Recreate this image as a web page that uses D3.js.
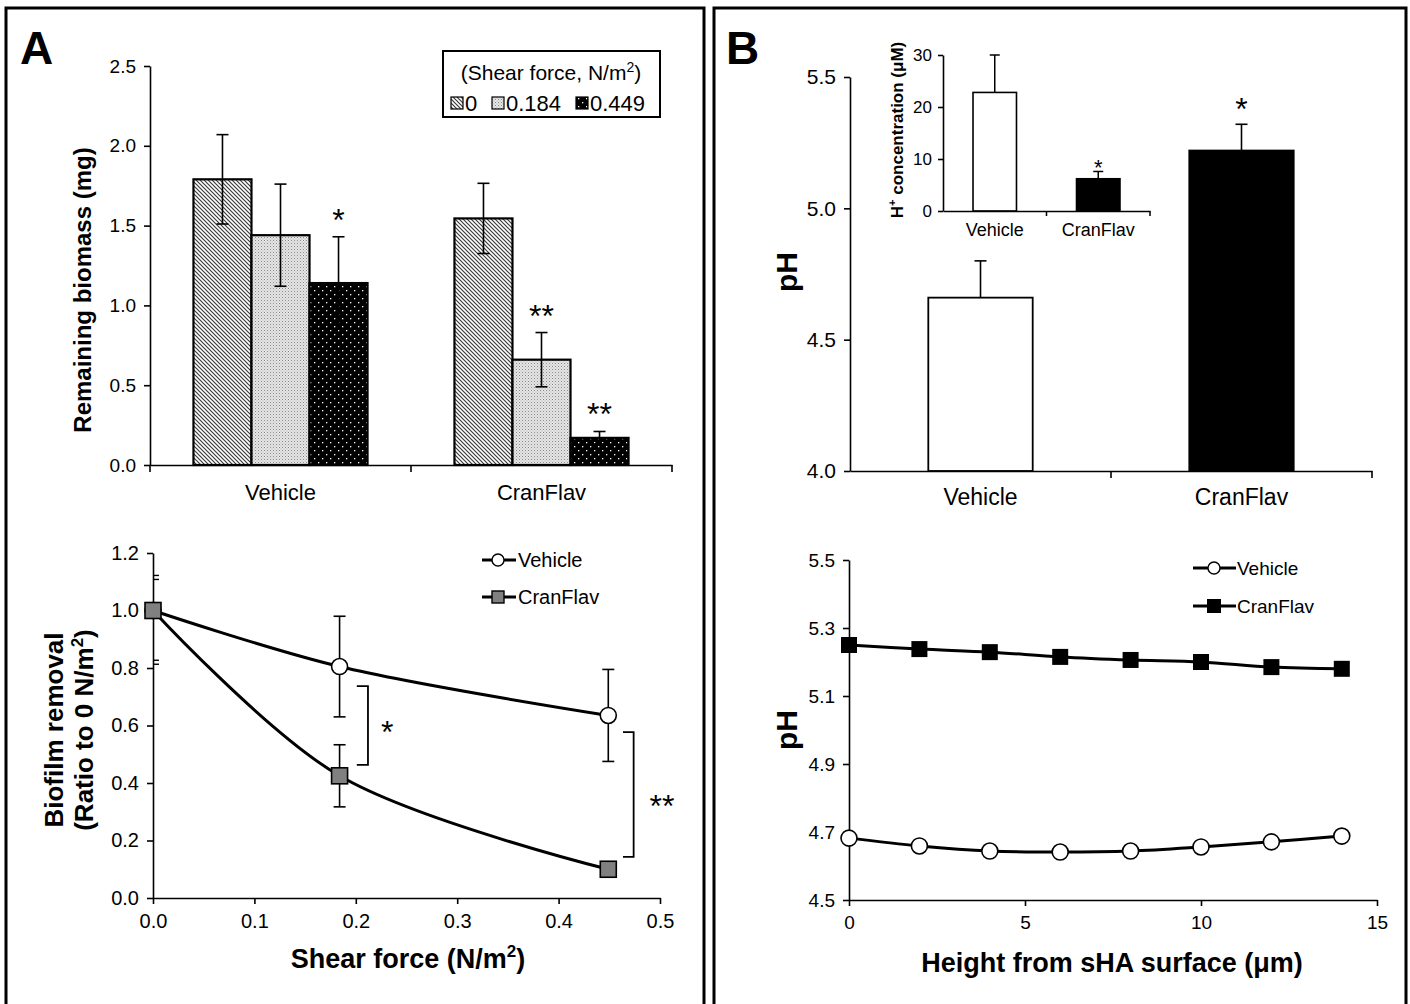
<!DOCTYPE html>
<html><head><meta charset="utf-8">
<script src="https://cdn.jsdelivr.net/npm/d3@7"></script>
<style>
body{margin:0;background:#fff}
text{font-family:"Liberation Sans",Arial,sans-serif;fill:#000}
</style>
</head><body><svg id="c" width="1410" height="1004"></svg>
<script>
// ---------------- DATA ----------------
const groups = ["Vehicle", "CranFlav"];
const shearLevels = ["0", "0.184", "0.449"];
const biomassVehicle = [1.79, 1.44, 1.14];
const biomassVehicleErr = [0.28, 0.32, 0.29];
const biomassCranFlav = [1.545, 0.66, 0.17];
const biomassCranFlavErr = [0.22, 0.17, 0.04];
const biomassSig = [["", "", "*"], ["", "**", "**"]];
const biomassTicks = [0, 0.5, 1.0, 1.5, 2.0, 2.5];

const shearX = [0, 0.184, 0.449];
const removalVehicle = [1.0, 0.805, 0.635];
const removalVehicleErr = [0, 0.175, 0.16];
const removalCranFlav = [1.0, 0.425, 0.10];
const removalCranFlavErr = [0, 0.108, 0.012];
const removalYTicks = [0, 0.2, 0.4, 0.6, 0.8, 1.0, 1.2];
const removalXTicks = [0, 0.1, 0.2, 0.3, 0.4, 0.5];
const removalBrackets = [
  {x: 0.212, arm: 0.201, y0: 0.737, y1: 0.463, label: "*", lx: 0.231, ly: 0.59},
  {x: 0.474, arm: 0.4635, y0: 0.577, y1: 0.143, label: "**", lx: 0.502, ly: 0.335}
];

const phMean = [4.66, 5.22];
const phErr = [0.14, 0.10];
const phSig = ["", "*"];
const phTicks = [4.0, 4.5, 5.0, 5.5];

const hConc = [22.8, 6.2];
const hConcErr = [7.2, 1.4];
const hSig = ["", "*"];
const hTicks = [0, 10, 20, 30];

const heights = [0, 2, 4, 6, 8, 10, 12, 14];
const profileVehicle = [4.682, 4.659, 4.644, 4.641, 4.644, 4.656, 4.671, 4.688];
const profileCranFlav = [5.25, 5.238, 5.229, 5.215, 5.206, 5.20, 5.185, 5.18];
const profileYTicks = [4.5, 4.7, 4.9, 5.1, 5.3, 5.5];
const profileXTicks = [0, 5, 10, 15];

// ---------------- SETUP ----------------
const svg = d3.select("#c");
const defs = svg.append("defs");
const font = '"Liberation Sans",Arial,sans-serif';

// patterns
const p1 = defs.append("pattern").attr("id", "hatch").attr("patternUnits", "userSpaceOnUse").attr("width", 4).attr("height", 4);
p1.append("rect").attr("width", 4).attr("height", 4).attr("fill", "#fff");
p1.append("path").attr("d", "M-1,-1 L5,5 M-1,3 L1,5 M3,-1 L5,1").attr("stroke", "#3a3a3a").attr("stroke-width", 1.2);
const p2 = defs.append("pattern").attr("id", "dots").attr("patternUnits", "userSpaceOnUse").attr("width", 3).attr("height", 3);
p2.append("rect").attr("width", 3).attr("height", 3).attr("fill", "#e6e6e6");
p2.append("rect").attr("width", 1).attr("height", 1).attr("fill", "#888");
p2.append("rect").attr("x", 1.5).attr("y", 1.5).attr("width", 1).attr("height", 1).attr("fill", "#aaa");
const p3 = defs.append("pattern").attr("id", "bdots").attr("patternUnits", "userSpaceOnUse").attr("width", 8).attr("height", 8);
p3.append("rect").attr("width", 8).attr("height", 8).attr("fill", "#000");
p3.append("rect").attr("x", 2).attr("y", 2).attr("width", 1.3).attr("height", 1.3).attr("fill", "#fff");
p3.append("rect").attr("x", 6).attr("y", 6).attr("width", 1.3).attr("height", 1.3).attr("fill", "#fff");
const fills = ["url(#hatch)", "url(#dots)", "url(#bdots)"];

// panel borders
svg.append("rect").attr("x", 6).attr("y", 8).attr("width", 698).attr("height", 1010)
  .attr("fill", "none").attr("stroke", "#000").attr("stroke-width", 3);
svg.append("rect").attr("x", 714).attr("y", 8).attr("width", 692).attr("height", 1010)
  .attr("fill", "none").attr("stroke", "#000").attr("stroke-width", 3);

svg.append("text").attr("x", 20).attr("y", 64).attr("font-size", 46).attr("font-weight", "bold").text("A");
svg.append("text").attr("x", 726).attr("y", 64).attr("font-size", 46).attr("font-weight", "bold").text("B");

function styleAxis(g, fs) {
  g.selectAll(".domain").attr("stroke", "#000").attr("stroke-width", 1.6);
  g.selectAll(".tick line").attr("stroke", "#000").attr("stroke-width", 1.6);
  g.selectAll(".tick text").attr("font-size", fs).attr("font-family", font).attr("fill", "#000");
}
function errBar(g, x, y0, y1, cap, sw) {
  g.append("line").attr("x1", x).attr("x2", x).attr("y1", y0).attr("y2", y1).attr("stroke", "#000").attr("stroke-width", sw);
  g.append("line").attr("x1", x - cap).attr("x2", x + cap).attr("y1", y1).attr("y2", y1).attr("stroke", "#000").attr("stroke-width", sw);
}

// ---------------- PANEL A TOP ----------------
{
  const g = svg.append("g");
  const x = d3.scaleBand().domain(groups).range([150, 672]).padding(0);
  const y = d3.scaleLinear().domain([0, 2.5]).range([465, 66]);
  const groupW = x.bandwidth() * 0.667;
  const x1 = d3.scaleBand().domain(shearLevels).range([0, groupW]).padding(0);
  const means = [biomassVehicle, biomassCranFlav];
  const errs = [biomassVehicleErr, biomassCranFlavErr];
  groups.forEach((grp, gi) => {
    const off = x(grp) + (x.bandwidth() - groupW) / 2;
    shearLevels.forEach((s, si) => {
      const bx = off + x1(s), v = means[gi][si], e = errs[gi][si];
      g.append("rect").attr("x", bx).attr("y", y(v)).attr("width", x1.bandwidth()).attr("height", y(0) - y(v))
        .attr("fill", fills[si]).attr("stroke", "#000").attr("stroke-width", 2.2);
      const cx = bx + x1.bandwidth() / 2;
      errBar(g, cx, y(v), y(v + e), 6, 1.6);
      errBar(g, cx, y(v), y(v - e), 6, 1.6);
      if (biomassSig[gi][si]) {
        g.append("text").attr("x", cx).attr("y", y(v + e) - 6).attr("text-anchor", "middle")
          .attr("font-size", 32).text(biomassSig[gi][si]);
      }
    });
  });
  const ya = g.append("g").attr("transform", "translate(150,0)")
    .call(d3.axisLeft(y).tickValues(biomassTicks).tickFormat(d3.format(".1f")).tickSize(6).tickSizeOuter(0).tickPadding(8));
  styleAxis(ya, 19);
  const xa = g.append("g").attr("transform", "translate(0,465)")
    .call(d3.axisBottom(x).tickSize(0).tickPadding(19));
  styleAxis(xa, 22);
  [...groups.map(d => x(d)), x.range()[1]].forEach(px => {
    g.append("line").attr("x1", px).attr("x2", px).attr("y1", 465).attr("y2", 472).attr("stroke", "#000").attr("stroke-width", 1.6);
  });
  g.append("text").attr("transform", "translate(91,290) rotate(-90)").attr("text-anchor", "middle")
    .attr("font-size", 24).attr("font-weight", "bold").text("Remaining biomass (mg)");
  // legend
  const lg = g.append("g");
  lg.append("rect").attr("x", 443).attr("y", 51).attr("width", 217).attr("height", 66)
    .attr("fill", "#fff").attr("stroke", "#000").attr("stroke-width", 2);
  const t = lg.append("text").attr("x", 551).attr("y", 80).attr("text-anchor", "middle").attr("font-size", 21);
  t.append("tspan").text("(Shear force, N/m");
  t.append("tspan").attr("font-size", 14).attr("dy", -8).text("2");
  t.append("tspan").attr("dy", 8).text(")");
  const lx = [451, 492, 576];
  shearLevels.forEach((s, i) => {
    lg.append("rect").attr("x", lx[i]).attr("y", 97).attr("width", 12).attr("height", 12)
      .attr("fill", fills[i]).attr("stroke", "#000").attr("stroke-width", 1.2);
    lg.append("text").attr("x", lx[i] + 14).attr("y", 111).attr("font-size", 22).text(s);
  });
}

// ---------------- PANEL A BOTTOM ----------------
{
  const g = svg.append("g");
  const x = d3.scaleLinear().domain([0, 0.5]).range([153, 660]);
  const y = d3.scaleLinear().domain([0, 1.2]).range([898, 553]);
  const ya = g.append("g").attr("transform", "translate(153,0)")
    .call(d3.axisLeft(y).tickValues(removalYTicks).tickFormat(d3.format(".1f")).tickSize(6).tickSizeOuter(0).tickPadding(8));
  styleAxis(ya, 20);
  const xa = g.append("g").attr("transform", "translate(0,898)")
    .call(d3.axisBottom(x).tickValues(removalXTicks).tickFormat(d3.format(".1f")).tickSize(6).tickSizeOuter(0).tickPadding(10));
  styleAxis(xa, 20);
  // axis break marks
  [1.115, 0.82].forEach(v => {
    [-2, 2].forEach(d => g.append("line").attr("x1", 153).attr("x2", 159).attr("y1", y(v) + d).attr("y2", y(v) + d)
      .attr("stroke", "#000").attr("stroke-width", 1.4));
  });
  const line = d3.line().x(d => x(d[0])).y(d => y(d[1])).curve(d3.curveCatmullRom.alpha(0.5));
  const series = [
    {m: removalVehicle, e: removalVehicleErr, type: "circle"},
    {m: removalCranFlav, e: removalCranFlavErr, type: "square"}
  ];
  series.forEach(s => {
    g.append("path").datum(shearX.map((v, i) => [v, s.m[i]])).attr("d", line)
      .attr("fill", "none").attr("stroke", "#000").attr("stroke-width", 3);
  });
  series.forEach(s => {
    shearX.forEach((v, i) => {
      if (s.e[i] > 0) {
        errBar(g, x(v), y(s.m[i]), y(s.m[i] + s.e[i]), 6, 1.6);
        errBar(g, x(v), y(s.m[i]), y(s.m[i] - s.e[i]), 6, 1.6);
      }
    });
  });
  series.forEach(s => {
    shearX.forEach((v, i) => {
      if (s.type === "circle") {
        g.append("circle").attr("cx", x(v)).attr("cy", y(s.m[i])).attr("r", 8)
          .attr("fill", "#fff").attr("stroke", "#000").attr("stroke-width", 1.6);
      } else {
        g.append("rect").attr("x", x(v) - 8).attr("y", y(s.m[i]) - 8).attr("width", 16).attr("height", 16)
          .attr("fill", "#808080").attr("stroke", "#000").attr("stroke-width", 1.6);
      }
    });
  });
  removalBrackets.forEach(b => {
    g.append("path").attr("d", `M${x(b.arm)},${y(b.y0)} H${x(b.x)} V${y(b.y1)} H${x(b.arm)}`)
      .attr("fill", "none").attr("stroke", "#000").attr("stroke-width", 1.8);
    g.append("text").attr("x", x(b.lx)).attr("y", y(b.ly) + 15).attr("text-anchor", "middle")
      .attr("font-size", 32).text(b.label);
  });
  // legend
  const names = ["Vehicle", "CranFlav"];
  [560, 597].forEach((ly, i) => {
    g.append("line").attr("x1", 482).attr("x2", 516).attr("y1", ly).attr("y2", ly).attr("stroke", "#000").attr("stroke-width", 3);
    if (i === 0) g.append("circle").attr("cx", 498).attr("cy", ly).attr("r", 6).attr("fill", "#fff").attr("stroke", "#000").attr("stroke-width", 1.4);
    else g.append("rect").attr("x", 492).attr("y", ly - 6).attr("width", 12).attr("height", 12).attr("fill", "#808080").attr("stroke", "#000").attr("stroke-width", 1.4);
    g.append("text").attr("x", 518).attr("y", ly + 7).attr("font-size", 20).text(names[i]);
  });
  const xt = g.append("text").attr("x", 408).attr("y", 968).attr("text-anchor", "middle").attr("font-size", 27).attr("font-weight", "bold");
  xt.append("tspan").text("Shear force (N/m");
  xt.append("tspan").attr("font-size", 17).attr("dy", -11).text("2");
  xt.append("tspan").attr("dy", 11).text(")");
  const yt = g.append("text").attr("transform", "translate(63,730) rotate(-90)").attr("text-anchor", "middle")
    .attr("font-size", 26).attr("font-weight", "bold");
  yt.append("tspan").attr("x", 0).attr("dy", 0).text("Biofilm removal");
  const yt2 = g.append("text").attr("transform", "translate(93,730) rotate(-90)").attr("text-anchor", "middle")
    .attr("font-size", 26).attr("font-weight", "bold");
  yt2.append("tspan").text("(Ratio to 0 N/m");
  yt2.append("tspan").attr("font-size", 17).attr("dy", -10).text("2");
  yt2.append("tspan").attr("dy", 10).text(")");
}

// ---------------- PANEL B TOP ----------------
{
  const g = svg.append("g");
  const x = d3.scaleBand().domain(groups).range([850, 1372]).padding(0);
  const y = d3.scaleLinear().domain([4.0, 5.5]).range([471, 77]);
  const bw = x.bandwidth() * 0.4;
  const colors = ["#fff", "#000"];
  groups.forEach((grp, i) => {
    const cx = x(grp) + x.bandwidth() / 2;
    g.append("rect").attr("x", cx - bw / 2).attr("y", y(phMean[i])).attr("width", bw).attr("height", y(4.0) - y(phMean[i]))
      .attr("fill", colors[i]).attr("stroke", "#000").attr("stroke-width", 1.8);
    errBar(g, cx, y(phMean[i]), y(phMean[i] + phErr[i]), 6, 1.6);
    if (phSig[i]) g.append("text").attr("x", cx).attr("y", y(phMean[i] + phErr[i]) - 4).attr("text-anchor", "middle").attr("font-size", 32).text(phSig[i]);
  });
  const ya = g.append("g").attr("transform", "translate(850,0)")
    .call(d3.axisLeft(y).tickValues(phTicks).tickFormat(d3.format(".1f")).tickSize(6).tickSizeOuter(0).tickPadding(8));
  styleAxis(ya, 21);
  const xa = g.append("g").attr("transform", "translate(0,471)")
    .call(d3.axisBottom(x).tickSize(0).tickPadding(18));
  styleAxis(xa, 23);
  [x("CranFlav"), x.range()[1]].forEach(px => {
    g.append("line").attr("x1", px).attr("x2", px).attr("y1", 471).attr("y2", 478).attr("stroke", "#000").attr("stroke-width", 1.6);
  });
  g.append("text").attr("transform", "translate(797,272) rotate(-90)").attr("text-anchor", "middle")
    .attr("font-size", 30).attr("font-weight", "bold").text("pH");

  // inset
  const xi = d3.scaleBand().domain(groups).range([943, 1150]).padding(0);
  const yi = d3.scaleLinear().domain([0, 30]).range([211, 55]);
  const ibw = xi.bandwidth() * 0.42;
  groups.forEach((grp, i) => {
    const cx = xi(grp) + xi.bandwidth() / 2;
    g.append("rect").attr("x", cx - ibw / 2).attr("y", yi(hConc[i])).attr("width", ibw).attr("height", yi(0) - yi(hConc[i]))
      .attr("fill", colors[i]).attr("stroke", "#000").attr("stroke-width", 1.6);
    errBar(g, cx, yi(hConc[i]), yi(hConc[i] + hConcErr[i]), 5, 1.5);
    if (hSig[i]) g.append("text").attr("x", cx).attr("y", yi(hConc[i] + hConcErr[i]) + 4).attr("text-anchor", "middle").attr("font-size", 22).text(hSig[i]);
  });
  const yia = g.append("g").attr("transform", "translate(943,0)")
    .call(d3.axisLeft(yi).tickValues(hTicks).tickSize(5).tickSizeOuter(0).tickPadding(6));
  styleAxis(yia, 17);
  const xia = g.append("g").attr("transform", "translate(0,211)")
    .call(d3.axisBottom(xi).tickSize(0).tickPadding(12));
  styleAxis(xia, 18);
  [xi("CranFlav"), xi.range()[1]].forEach(px => {
    g.append("line").attr("x1", px).attr("x2", px).attr("y1", 211).attr("y2", 216).attr("stroke", "#000").attr("stroke-width", 1.5);
  });
  const it = g.append("text").attr("transform", "translate(903,130) rotate(-90)").attr("text-anchor", "middle")
    .attr("font-size", 17).attr("font-weight", "bold");
  it.append("tspan").text("H");
  it.append("tspan").attr("font-size", 11).attr("dy", -7).text("+");
  it.append("tspan").attr("dy", 7).text(" concentration (μM)");
}

// ---------------- PANEL B BOTTOM ----------------
{
  const g = svg.append("g");
  const x = d3.scaleLinear().domain([0, 15]).range([849, 1377]);
  const y = d3.scaleLinear().domain([4.5, 5.5]).range([900, 560]);
  const ya = g.append("g").attr("transform", "translate(849,0)")
    .call(d3.axisLeft(y).tickValues(profileYTicks).tickFormat(d3.format(".1f")).tickSize(6).tickSizeOuter(0).tickPadding(8));
  styleAxis(ya, 19);
  const xa = g.append("g").attr("transform", "translate(0,900)")
    .call(d3.axisBottom(x).tickValues(profileXTicks).tickSize(6).tickSizeOuter(0).tickPadding(10));
  styleAxis(xa, 19);
  const line = d3.line().x(d => x(d[0])).y(d => y(d[1])).curve(d3.curveCatmullRom.alpha(0.5));
  const series = [{m: profileVehicle, type: "circle"}, {m: profileCranFlav, type: "square"}];
  series.forEach(s => {
    g.append("path").datum(heights.map((h, i) => [h, s.m[i]])).attr("d", line)
      .attr("fill", "none").attr("stroke", "#000").attr("stroke-width", 3);
    heights.forEach((h, i) => {
      if (s.type === "circle") g.append("circle").attr("cx", x(h)).attr("cy", y(s.m[i])).attr("r", 8)
        .attr("fill", "#fff").attr("stroke", "#000").attr("stroke-width", 1.6);
      else g.append("rect").attr("x", x(h) - 8).attr("y", y(s.m[i]) - 8).attr("width", 16).attr("height", 16)
        .attr("fill", "#000");
    });
  });
  const names = ["Vehicle", "CranFlav"];
  [568, 606].forEach((ly, i) => {
    g.append("line").attr("x1", 1193).attr("x2", 1236).attr("y1", ly).attr("y2", ly).attr("stroke", "#000").attr("stroke-width", 3);
    if (i === 0) g.append("circle").attr("cx", 1214).attr("cy", ly).attr("r", 6).attr("fill", "#fff").attr("stroke", "#000").attr("stroke-width", 1.4);
    else g.append("rect").attr("x", 1207).attr("y", ly - 7).attr("width", 14).attr("height", 14).attr("fill", "#000");
    g.append("text").attr("x", 1237).attr("y", ly + 7).attr("font-size", 19).text(names[i]);
  });
  g.append("text").attr("x", 1112).attr("y", 972).attr("text-anchor", "middle").attr("font-size", 27).attr("font-weight", "bold")
    .text("Height from sHA surface (μm)");
  g.append("text").attr("transform", "translate(797,730) rotate(-90)").attr("text-anchor", "middle")
    .attr("font-size", 30).attr("font-weight", "bold").text("pH");
}
</script>
</body></html>
